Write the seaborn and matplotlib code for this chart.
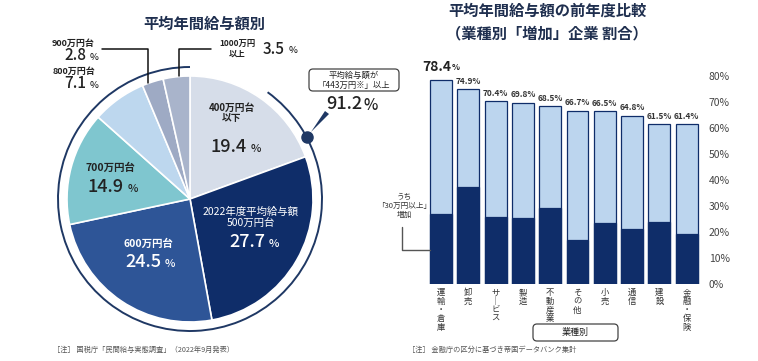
import matplotlib.pyplot as plt
from matplotlib.patches import Arc, FancyBboxPatch, Polygon
import seaborn as sns

# --- Data ---
PIE_LABELS = ['400万円台\n以下', '2022年度平均給与額\n500万円台', '600万円台', '700万円台',
              '800万円台', '900万円台', '1000万円\n以上']
PIE_SHARES = [19.4, 27.7, 24.5, 14.9, 7.1, 2.8, 3.5]
PIE_COLORS = ['#d6dde9', '#0f2d69', '#2e5597', '#7fc6cf', '#bdd7ee', '#9eaac4', '#a9b4cb']
ABOVE_AVG_SHARE = 91.2

INDUSTRIES = ['運輸・倉庫', '卸売', 'サービス', '製造', '不動産業',
              'その他', '小売', '通信', '建設', '金融・保険']
INCREASE_PCT = [78.4, 74.9, 70.4, 69.8, 68.5, 66.7, 66.5, 64.8, 61.5, 61.4]
INCREASE_30_PCT = [26.9, 37.4, 25.9, 25.5, 29.4, 16.9, 23.3, 21.3, 24.0, 19.1]
Y_TICKS = [0, 10, 20, 30, 40, 50, 60, 70, 80]

# --- Style ---
NAVY = '#0f2d69'
LIGHT = '#bcd5ee'
TEXT = '#222222'
TITLE = '#1f2f4f'
GREY = '#555555'

W, H = 758, 361

sns.set_theme(style="white")
plt.rcParams['font.family'] = ['Noto Sans CJK JP', 'DejaVu Sans']

fig = plt.figure(figsize=(W / 100, H / 100), dpi=100)
fig.patch.set_facecolor('white')


def px_axes(left, top, right, bottom):
    """Axes placed by pixel box (origin top-left)."""
    return fig.add_axes([left / W, (H - bottom) / H, (right - left) / W, (bottom - top) / H])


# --- Left: pie ---
cx, cy, r = 190, 199, 123
ax_pie = px_axes(cx - 150, cy - 150, cx + 150, cy + 150)
ax_pie.pie(PIE_SHARES, colors=PIE_COLORS, startangle=90, counterclock=False,
           radius=r, wedgeprops=dict(edgecolor='white', linewidth=1.2))
ax_pie.set_xlim(-150, 150)
ax_pie.set_ylim(-150, 150)
ax_pie.set_aspect('equal')
ax_pie.axis('off')
# outer ring (gap on upper right)
ax_pie.add_patch(Arc((0, 0), 2 * 132, 2 * 132, theta1=90, theta2=54, color='#1f3864', lw=1.4))

# --- Right: stacked bars ---
ax_bar = px_axes(427.4, 76, 700.3, 284)
sns.barplot(x=INDUSTRIES, y=INCREASE_PCT, color=LIGHT, saturation=1, width=0.8,
            edgecolor=NAVY, linewidth=0.9, ax=ax_bar)
sns.barplot(x=INDUSTRIES, y=INCREASE_30_PCT, color=NAVY, saturation=1, width=0.8,
            edgecolor=NAVY, linewidth=0.9, ax=ax_bar)
ax_bar.set_ylim(0, 80)
ax_bar.set_xlim(-0.5, len(INDUSTRIES) - 0.5)
ax_bar.yaxis.tick_right()
ax_bar.set_yticks(Y_TICKS)
ax_bar.set_yticklabels([f'{t}%' for t in Y_TICKS], fontsize=7.5, color='#444444')
ax_bar.tick_params(axis='y', length=0, pad=6)
ax_bar.set_xticks(range(len(INDUSTRIES)))
ax_bar.set_xticklabels(['\n'.join(c.replace('ー', '｜')) for c in INDUSTRIES],
                       fontsize=6, color='#333333', linespacing=0.95, va='top')
ax_bar.tick_params(axis='x', length=0, pad=3)
ax_bar.set_xlabel('')
ax_bar.set_ylabel('')
for s in ax_bar.spines.values():
    s.set_visible(False)

for i, v in enumerate(INCREASE_PCT):
    if i == 0:
        ax_bar.text(i + 0.37, v + 5.0, f'{v}', ha='right', va='center', fontsize=10,
                    fontweight='bold', color=TEXT, clip_on=False)
        ax_bar.text(i + 0.39, v + 4.7, '%', ha='left', va='center', fontsize=6,
                    fontweight='bold', color=TEXT, clip_on=False)
    else:
        ax_bar.text(i, v + 3.0, f'{v}%', ha='center', va='center', fontsize=6,
                    fontweight='bold', color='#333333', clip_on=False)

# --- Overlay for texts and leaders (pixel coords) ---
ov = fig.add_axes([0, 0, 1, 1])
ov.set_xlim(0, W)
ov.set_ylim(H, 0)
ov.axis('off')
ov.patch.set_alpha(0)


def pct(x_right, y, value, size, color, psize=None, gap=4):
    ov.text(x_right, y, f'{value}', ha='right', va='center', fontsize=size,
            color=color, fontweight='medium')
    ov.text(x_right + gap, y + size * 0.12, '%', ha='left', va='center',
            fontsize=psize or size * 0.62, color=color, fontweight='medium')


# titles
ov.text(204, 24, '平均年間給与額別', ha='center', va='center', fontsize=11,
        fontweight='bold', color=TITLE)
ov.text(547, 11, '平均年間給与額の前年度比較', ha='center', va='center', fontsize=11,
        fontweight='bold', color=TITLE)
ov.text(547, 33, '（業種別「増加」企業 割合）', ha='center', va='center', fontsize=11,
        fontweight='bold', color=TITLE)

# pie labels
ov.text(232, 113, PIE_LABELS[0], ha='center', va='center', fontsize=7,
        fontweight='bold', color=TEXT, linespacing=1.1)
pct(247, 147, PIE_SHARES[0], 13, TEXT)

ov.text(251, 218, PIE_LABELS[1], ha='center', va='center', fontsize=7.5,
        color='white', linespacing=1.25)
pct(265, 242, PIE_SHARES[1], 13, 'white')

ov.text(148, 244, PIE_LABELS[2], ha='center', va='center', fontsize=7.5,
        fontweight='bold', color='white')
pct(161, 262, PIE_SHARES[2], 13, 'white')

ov.text(110, 168, PIE_LABELS[3], ha='center', va='center', fontsize=7.5,
        fontweight='bold', color=TEXT)
pct(124, 187, PIE_SHARES[3], 13, TEXT)

ov.text(95, 71, PIE_LABELS[4], ha='right', va='center', fontsize=6.5,
        fontweight='bold', color=TEXT)
pct(86, 84, PIE_SHARES[4], 11, TEXT)
ov.text(95, 43, PIE_LABELS[5], ha='right', va='center', fontsize=6.5,
        fontweight='bold', color=TEXT)
pct(86, 56, PIE_SHARES[5], 11, TEXT)

ov.text(237, 49, PIE_LABELS[6], ha='center', va='center', fontsize=6,
        fontweight='bold', color=TEXT, linespacing=1.1)
pct(285, 49, PIE_SHARES[6], 11, TEXT)

# leader lines
ov.plot([102, 148, 148], [49, 49, 83], color='#111111', lw=1.1)
ov.plot([211, 179, 179], [49, 49, 76], color='#111111', lw=1.1)

# above-average callout
ov.add_patch(FancyBboxPatch((309, 69), 90, 22, boxstyle='round,pad=0,rounding_size=4',
                            fc='white', ec='#444444', lw=0.9))
ov.text(354, 80, '平均給与額が\n「443万円※」以上', ha='center', va='center',
        fontsize=6, color=TEXT, linespacing=1.15)
pct(362, 104, ABOVE_AVG_SHARE, 13, TEXT, psize=11, gap=1)
ov.add_patch(Polygon([[311, 132], [325, 111], [329, 114]], closed=True, fc='#1f3864', ec='none'))
ov.plot([307], [137], 'o', ms=8, color='#1f3864')

# bar annotation
ov.text(404, 206, 'うち\n「30万円以上」\n増加', ha='center', va='center',
        fontsize=5.5, color='#333333', linespacing=1.2)
ov.plot([402, 402, 430], [227, 250, 250], color=GREY, lw=1)

# industry box
ov.add_patch(FancyBboxPatch((533, 324), 85, 17, boxstyle='round,pad=0,rounding_size=4',
                            fc='white', ec='#444444', lw=0.9))
ov.text(575.5, 332.5, '業種別', ha='center', va='center', fontsize=6.5, color=TEXT)

# footnotes
ov.text(53, 350, '［注］ 国税庁「民間給与実態調査」（2022年9月発表）', ha='left', va='center',
        fontsize=5.2, color=GREY)
ov.text(408, 350, '［注］ 金融庁の区分に基づき帝国データバンク集計', ha='left', va='center',
        fontsize=5.2, color=GREY)

fig.savefig('out.png', dpi=100)
